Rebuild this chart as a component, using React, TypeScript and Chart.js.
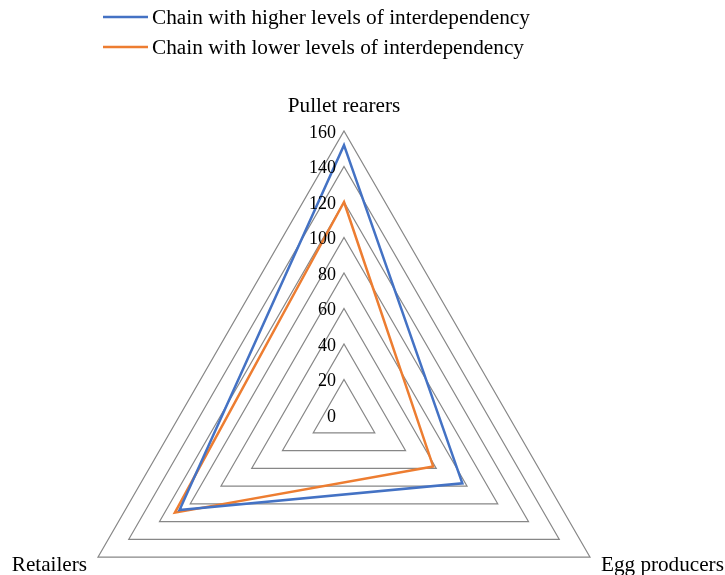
import React, { useEffect, useRef } from "react";
import { Chart, registerables } from "chart.js";

Chart.register(...registerables);

const categories = ["Pullet rearers", "Egg producers", "Retailers"];
const seriesNames = [
  "Chain with higher levels of interdependency",
  "Chain with lower levels of interdependency",
];
const higherValues = [152, 77, 107];
const lowerValues = [120, 58, 110];
const tickLabels = ["0", "20", "40", "60", "80", "100", "120", "140", "160"];
const seriesColors = ["#4472C4", "#ED7D31"];

const FONT = '"Liberation Serif", "Times New Roman", serif';

const overlayPlugin = {
  id: "overlay",
  afterDraw(chart: any) {
    const ctx = chart.ctx;
    const scale = chart.scales.r;
    ctx.save();
    ctx.fillStyle = "#000";
    // tick labels
    ctx.font = `18px ${FONT}`;
    ctx.textAlign = "right";
    ctx.textBaseline = "middle";
    tickLabels.forEach((t) => {
      const v = Number(t);
      const y = scale.yCenter - scale.getDistanceFromCenterForValue(v);
      ctx.fillText(t, scale.xCenter - 8, y + 2);
    });
    // point labels
    ctx.font = `21.2px ${FONT}`;
    categories.forEach((c, i) => {
      const p = scale.getPointPosition(i, scale.drawingArea);
      if (i === 0) {
        ctx.textAlign = "center";
        ctx.textBaseline = "alphabetic";
        ctx.fillText(c, p.x, p.y - 19);
      } else if (i === 1) {
        ctx.textAlign = "left";
        ctx.textBaseline = "middle";
        ctx.fillText(c, p.x + 11, p.y + 8);
      } else {
        ctx.textAlign = "right";
        ctx.textBaseline = "middle";
        ctx.fillText(c, p.x - 11, p.y + 8);
      }
    });
    // legend
    ctx.font = `21.3px ${FONT}`;
    ctx.textAlign = "left";
    ctx.textBaseline = "middle";
    seriesNames.forEach((n, i) => {
      const y = 17 + i * 30;
      ctx.strokeStyle = seriesColors[i];
      ctx.lineWidth = 2.5;
      ctx.beginPath();
      ctx.moveTo(103, y);
      ctx.lineTo(148, y);
      ctx.stroke();
      ctx.fillStyle = "#000";
      ctx.fillText(n, 152, y + 1);
    });
    ctx.restore();
  },
};

export default function App() {
  const ref = useRef<HTMLCanvasElement | null>(null);
  useEffect(() => {
    if (!ref.current) return;
    const chart = new Chart(ref.current, {
      type: "radar",
      data: {
        labels: categories,
        datasets: [
          {
            label: seriesNames[0],
            data: higherValues,
            borderColor: seriesColors[0],
            backgroundColor: "transparent",
            borderWidth: 2.5,
            pointRadius: 0,
            fill: false,
          },
          {
            label: seriesNames[1],
            data: lowerValues,
            borderColor: seriesColors[1],
            backgroundColor: "transparent",
            borderWidth: 2.5,
            pointRadius: 0,
            fill: false,
          },
        ],
      },
      options: {
        animation: false,
        responsive: true,
        maintainAspectRatio: false,
        plugins: { legend: { display: false }, tooltip: { enabled: false } },
        scales: {
          r: {
            min: 0,
            max: 160,
            ticks: { stepSize: 20, display: false },
            grid: { color: "#878787", lineWidth: 1.25 },
            angleLines: { display: false },
            pointLabels: { display: false },
            afterFit: (scale: any) => {
              scale.xCenter = 344;
              scale.yCenter = 415;
              scale.drawingArea = 284;
            },
          },
        },
      },
      plugins: [overlayPlugin],
    });
    return () => chart.destroy();
  }, []);
  return (
    <div style={{ position: "fixed", left: 0, top: 0, width: 725, height: 575, background: "#fff" }}>
      <canvas ref={ref} />
    </div>
  );
}
